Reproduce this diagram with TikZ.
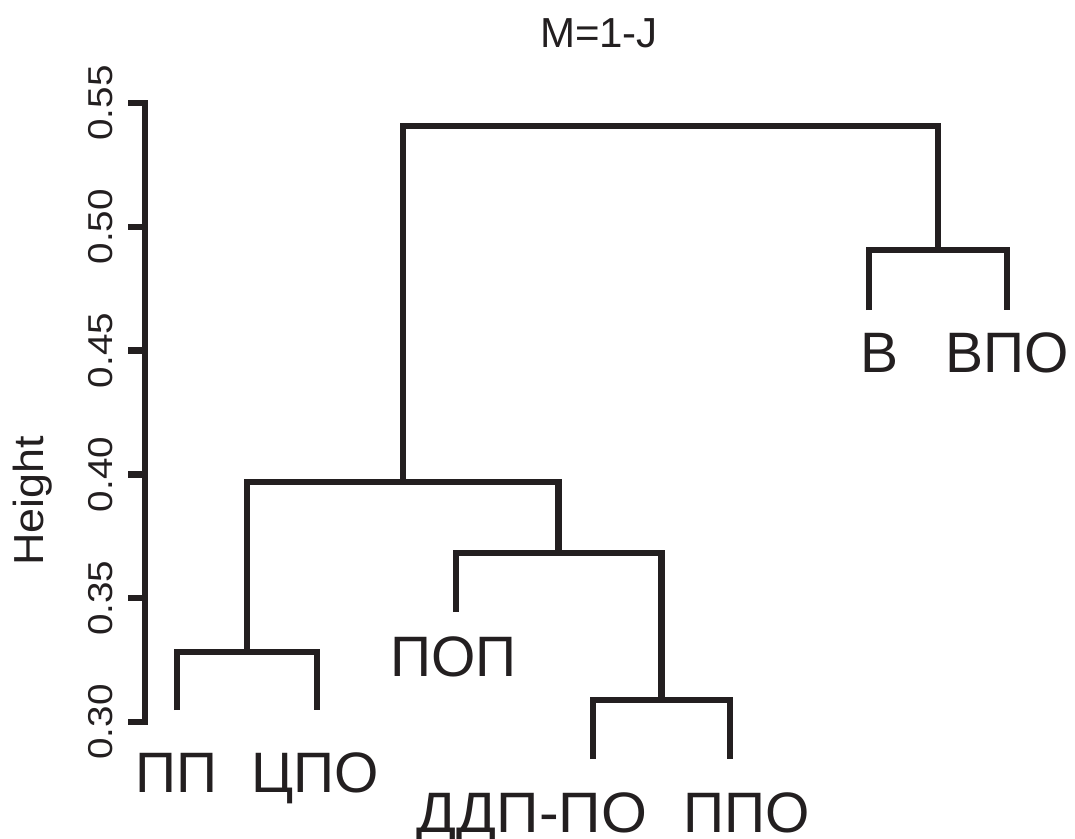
\documentclass[tikz,border=0pt]{standalone}
\usepackage{fontspec}
\setmainfont{Liberation Sans}
\usepackage{graphicx}
\definecolor{ink}{HTML}{231F20}
\tikzset{
  branch/.style={draw=ink, line width=6.5pt, line join=miter, line cap=butt},
  axisline/.style={draw=ink, line width=6.5pt, line join=miter, line cap=butt},
  leaflabel/.style={inner sep=0pt, text=ink, font=\fontsize{57}{60}\selectfont},
  ticklabel/.style={inner sep=0pt, text=ink, rotate=90, anchor=base, font=\fontsize{34.5}{38}\selectfont},
  titlelabel/.style={inner sep=0pt, text=ink, font=\fontsize{42}{46}\selectfont},
}
\begin{document}
\begin{tikzpicture}[x=1pt, y=-1pt]
\useasboundingbox (0,0) rectangle (1075,838);
% title
\node[titlelabel, anchor=base] (title) at (599,47) {M=1-J};
% y axis label
\node[titlelabel, rotate=90, anchor=base] (ylab) at (43,501) {\scalebox{1.07}[1]{Height}};
% axis
\coordinate (atop) at (145,103);
\coordinate (abot) at (145,722);
\draw[axisline] (128,103) -- (atop) -- (abot) -- (128,722);
\foreach \v/\y in {0.30/722, 0.35/598.2, 0.40/474.4, 0.45/350.6, 0.50/226.8, 0.55/103}{
  \draw[axisline] (128,\y) -- (145,\y);
  \node[ticklabel] at (112,\y) {\scalebox{1.12}[1]{\v}};
}
% leaf tips
\coordinate (lPP) at (177,710);
\coordinate (lCPO) at (317,710);
\coordinate (lPOP) at (456,612);
\coordinate (lDDP) at (593,759);
\coordinate (lPPO) at (730,759);
\coordinate (lV) at (869,310);
\coordinate (lVPO) at (1007,310);
% merge points
\coordinate (m1) at (247,652);
\coordinate (m2) at (661.5,700);
\coordinate (m3) at (558.5,553);
\coordinate (m4) at (402.75,482);
\coordinate (m5) at (938,250);
\coordinate (m6) at (670.4,126);
% branches
\draw[branch] (lPP) |- (m1) -| (lCPO);
\draw[branch] (lDDP) |- (m2) -| (lPPO);
\draw[branch] (lPOP) |- (m3) -| (m2);
\draw[branch] (m1) |- (m4) -| (m3);
\draw[branch] (lV) |- (m5) -| (lVPO);
\draw[branch] (m4) |- (m6) -| (m5);
% leaf labels
\node[leaflabel, anchor=base west] (tPP) at (135,792) {ПП};
\node[leaflabel, anchor=base west] (tCPO) at (251,792) {ЦПО};
\node[leaflabel, anchor=base west] (tPOP) at (390,676) {ПОП};
\node[leaflabel, anchor=base] (tDDP) at (532,832) {\scalebox{1.035}[1]{ДДП-ПО}};
\node[leaflabel, anchor=base west] (tPPO) at (683,832) {ППО};
\node[leaflabel, anchor=base west] (tV) at (860,372) {В};
\node[leaflabel, anchor=base west] (tVPO) at (945,372) {ВПО};
\end{tikzpicture}
\end{document}
